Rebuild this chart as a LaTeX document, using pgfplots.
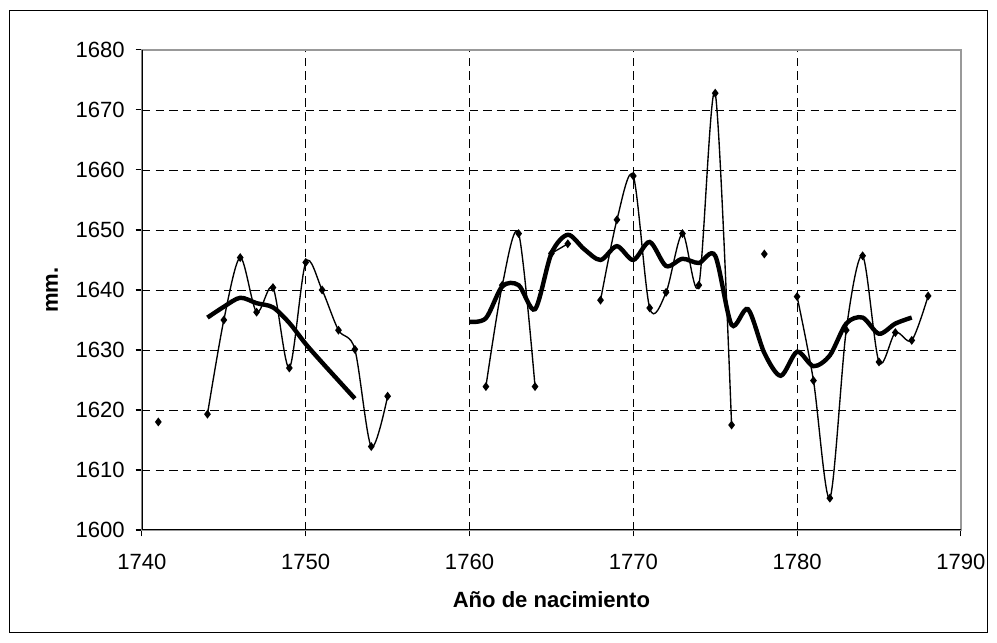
\documentclass[border=0pt]{standalone}
\usepackage{fontspec}
\setmainfont{Liberation Sans}
\usepackage{pgfplots}
\pgfplotsset{compat=1.18}

\pgfplotsset{
  thin/.style={black, line width=0.65pt, smooth, mark=diamond*, mark size=1.6pt,
    mark options={solid, fill=black}},
  thick/.style={black, line width=2.1pt, smooth, no markers},
}

\begin{document}
\fontsize{10.5}{12.5}\selectfont
\begin{tikzpicture}
\begin{axis}[
    name=ax,
    scale only axis,
    width=390pt,
    height=228.6pt,
    xmin=1740, xmax=1790,
    ymin=1600, ymax=1680,
    xtick={1740,1750,...,1790},
    ytick={1600,1610,...,1680},
    grid=major,
    grid style={black, dash pattern=on 4pt off 2.5pt, line width=0.4pt},
    axis line style={gray!80, line width=0.6pt},
    tick align=outside,
    tick pos=left,
    major tick length=3pt,
    tick style={black, line width=0.5pt},
    xticklabel style={yshift=-5pt},
    yticklabel style={xshift=-1.5pt},
    /pgf/number format/set thousands separator={},
    /pgf/number format/assume math mode=true,
    xlabel={\textbf{Año de nacimiento}},
    ylabel={\textbf{mm.}},
    xlabel style={at={([yshift=-33.3pt]axis description cs:0.5,0)}, anchor=center},
    ylabel style={at={([xshift=-42.9pt]axis description cs:0,0.5)}, anchor=center},
]
% single observations
\addplot[thin, only marks] coordinates {(1741,1618) (1778,1646)};

% yearly means, drawn in runs
\addplot[thin] coordinates {
  (1744,1619.3) (1745,1635) (1746,1645.4) (1747,1636.3) (1748,1640.4)
  (1749,1627) (1750,1644.6) (1751,1640) (1752,1633.3) (1753,1630.1)
  (1754,1613.9) (1755,1622.3)
};
\addplot[thin] coordinates {
  (1761,1623.9) (1762,1640.8) (1763,1649.4) (1764,1623.9)
};
\addplot[thin] coordinates {(1765,1646.1) (1766,1647.7)};
\addplot[thin] coordinates {
  (1768,1638.3) (1769,1651.7) (1770,1659) (1771,1637) (1772,1639.6)
  (1773,1649.4) (1774,1640.8) (1775,1672.8) (1776,1617.5)
};
\addplot[thin] coordinates {
  (1780,1638.9) (1781,1624.9) (1782,1605.3) (1783,1633.3) (1784,1645.7)
  (1785,1628) (1786,1632.9) (1787,1631.6) (1788,1639)
};

% moving average
\addplot[thick] coordinates {
  (1744,1635.4) (1745,1637.2) (1746,1638.7) (1747,1637.8) (1748,1637.1)
  (1749,1634.5) (1750,1631) (1751,1627.9) (1752,1624.9) (1753,1621.9)
};
\addplot[thick] coordinates {
  (1760,1634.7) (1761,1635.3) (1762,1640.6) (1763,1640.8) (1764,1636.8)
  (1765,1646.1) (1766,1649.2) (1767,1646.8) (1768,1645) (1769,1647.3)
  (1770,1645) (1771,1648) (1772,1644) (1773,1645.2) (1774,1644.5)
  (1775,1645.7) (1776,1634.2) (1777,1636.8) (1778,1629.5) (1779,1625.7)
  (1780,1629.7) (1781,1627.3) (1782,1629.1) (1783,1634.4) (1784,1635.4)
  (1785,1632.7) (1786,1634.4) (1787,1635.4)
};

\draw[black, line width=0.6pt] (rel axis cs:0,1) -- (rel axis cs:0,0) -- (rel axis cs:1,0);
\end{axis}
\draw[black, line width=0.5pt]
  ([shift={(-63.3pt,-49pt)}]ax.south west) rectangle ([shift={(12.9pt,19pt)}]ax.north east);
\path ([shift={(-67.6pt,-53.8pt)}]ax.south west) rectangle ([shift={(17.2pt,23.8pt)}]ax.north east);
\end{tikzpicture}
\end{document}
